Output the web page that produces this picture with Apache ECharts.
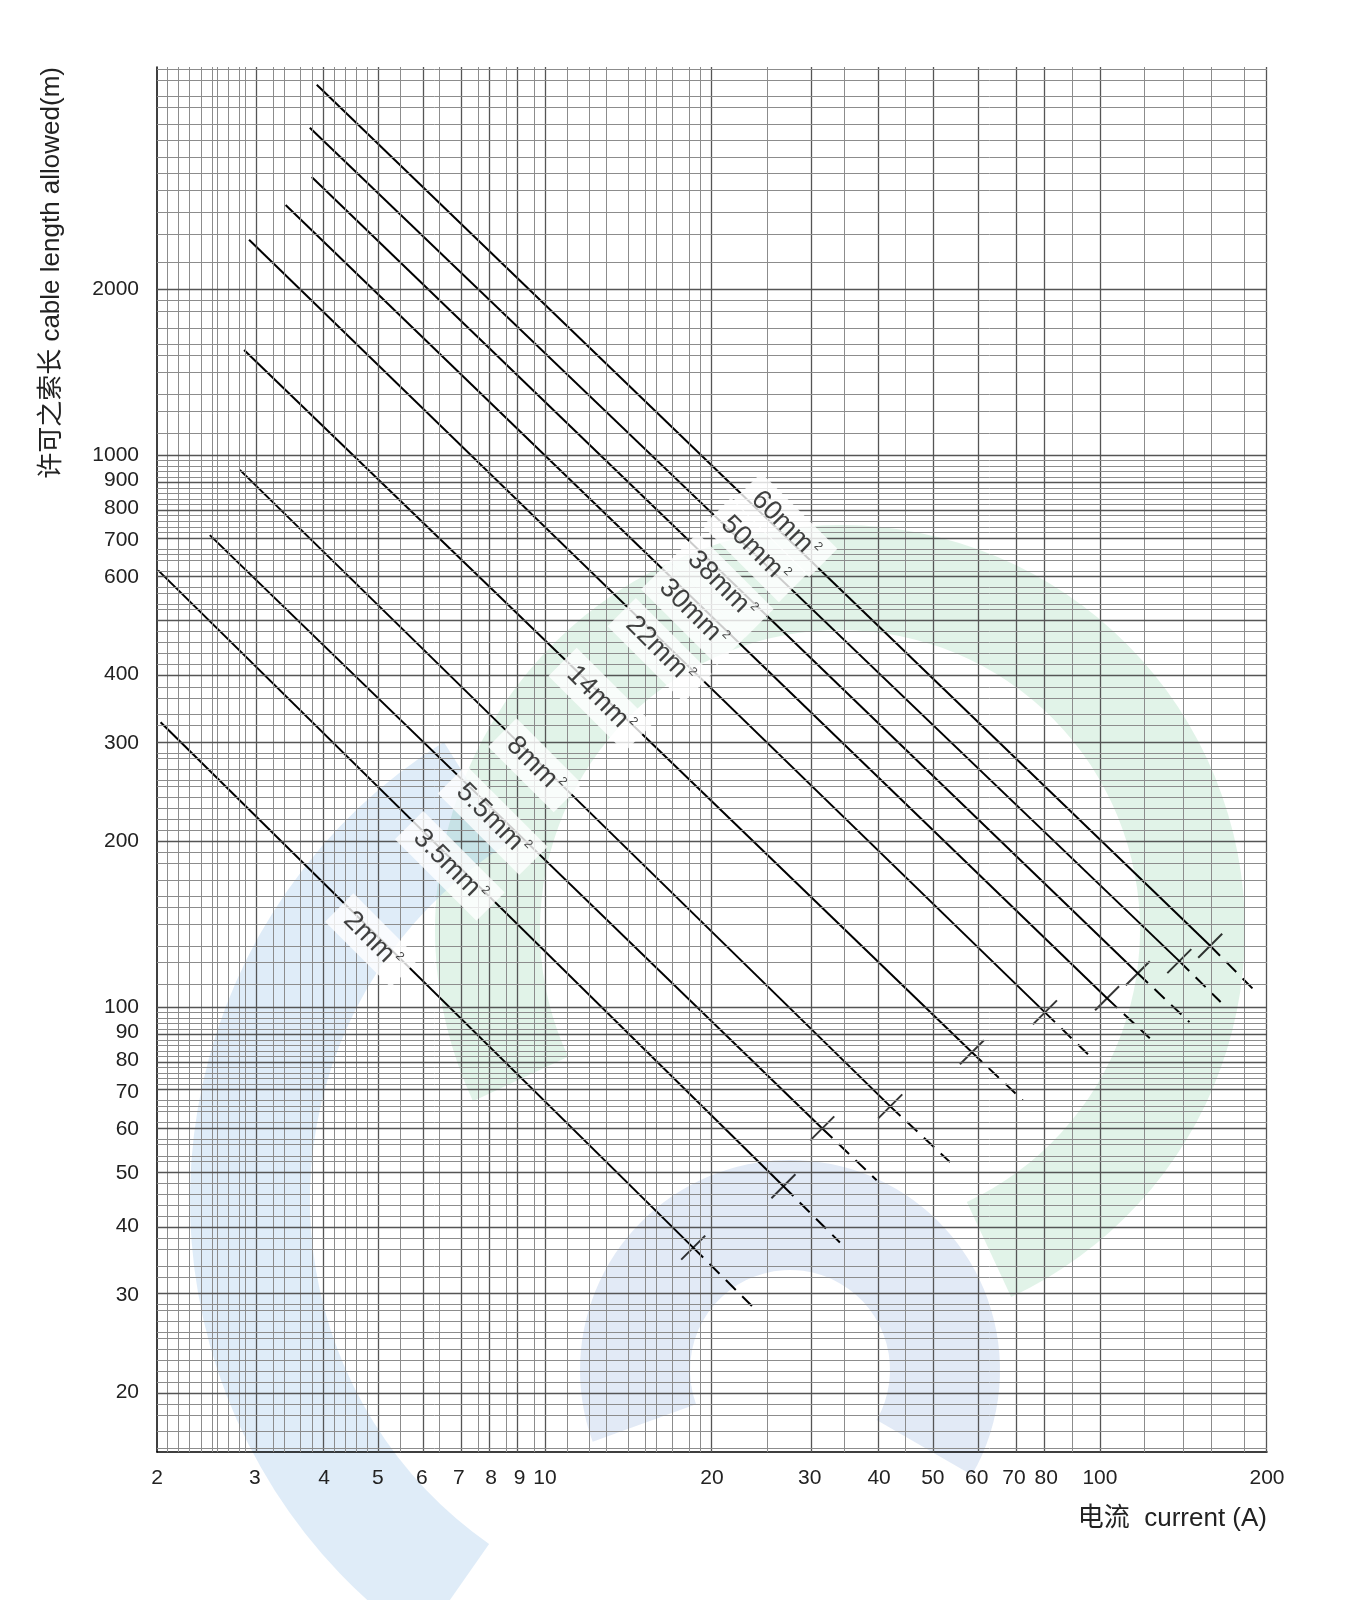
<!DOCTYPE html>
<html><head><meta charset="utf-8">
<script src="https://cdn.jsdelivr.net/npm/echarts@6/dist/echarts.min.js"></script>
<style>body{margin:0;background:#fff}#c{width:1364px;height:1600px}</style>
</head><body><div id="c"></div>
<script>
var xTicks = [2, 3, 4, 5, 6, 7, 8, 9, 10, 20, 30, 40, 50, 60, 70, 80, 100, 200];
var yTicks = [20, 30, 40, 50, 60, 70, 80, 90, 100, 200, 300, 400, 600, 700, 800, 900, 1000, 2000];
var cables = ['2', '3.5', '5.5', '8', '14', '22', '30', '38', '50', '60'];
// [start, cross, dashEnd] in (A, m)
var lineStart = [[2.03, 328], [2.01, 618], [2.49, 716], [2.82, 940], [2.87, 1550], [2.93, 2455], [3.41, 2840], [3.80, 3190], [3.77, 3920], [3.88, 4690]];
var lineCross = [[18.5, 36.6], [26.9, 47.3], [31.6, 60.2], [41.9, 66.0], [58.8, 82.7], [79.6, 97.7], [103, 103.6], [117, 115], [139, 121], [158, 129]];
var lineEnd = [[23.6, 28.7], [34.0, 37.4], [39.6, 48.5], [53.7, 52.3], [72.6, 67.7], [96.8, 80.7], [123, 87.7], [145, 93.8], [165, 102], [190, 107]];
var labelPos = [[4.88, 132], [6.74, 180], [8.05, 218], [9.6, 274], [12.6, 360], [16.1, 443], [18.5, 517], [20.8, 581], [23.9, 673], [27.1, 747]];

var L = Math.log10;
function P(p) { return [L(p[0]), L(p[1])]; }

var xMin = L(2), xMax = L(200), yMin = L(15.6), yMax = L(5050);

// graph-paper grid (approximate spacing)
var xGrid = [], yGrid = [], v;
function addRange(arr, a, b, s) { for (var t = a; t < b - 1e-9; t += s) arr.push(+t.toFixed(2)); }
addRange(xGrid, 2, 3, 0.1); addRange(xGrid, 3, 5, 0.2); addRange(xGrid, 5, 10, 0.5);
addRange(xGrid, 10, 20, 1); addRange(xGrid, 20, 50, 5); addRange(xGrid, 50, 100, 10);
addRange(xGrid, 100, 200, 20); xGrid.push(200);
addRange(yGrid, 16, 30, 1); addRange(yGrid, 30, 100, 2); addRange(yGrid, 100, 300, 10);
addRange(yGrid, 300, 1000, 20); addRange(yGrid, 1000, 2000, 100); addRange(yGrid, 2000, 5000, 250);
yGrid.push(5000);

var gridLines = [];
xGrid.forEach(function (g) {
  var major = xTicks.indexOf(g) >= 0;
  gridLines.push({ xAxis: L(g), lineStyle: { color: major ? '#555' : '#8c8c8c', width: major ? 1.3 : 1, type: 'solid' } });
});
yGrid.forEach(function (g) {
  var major = yTicks.indexOf(g) >= 0 || g === 500;
  gridLines.push({ yAxis: L(g), lineStyle: { color: major ? '#555' : '#8c8c8c', width: major ? 1.3 : 1, type: 'solid' } });
});

var series = [{
  type: 'line', data: [], silent: true,
  markLine: { silent: true, symbol: 'none', label: { show: false }, animation: false, data: gridLines }
}];
cables.forEach(function (c, i) {
  series.push({ type: 'line', data: [P(lineStart[i]), P(lineCross[i])], symbol: 'none', lineStyle: { color: '#000', width: 2 }, z: 3 });
  series.push({ type: 'line', data: [P(lineCross[i]), P(lineEnd[i])], symbol: 'none', lineStyle: { color: '#000', width: 2, type: [14, 9] }, z: 3 });
});
series.push({
  type: 'scatter', data: lineCross.map(P), symbol: 'path://M0,20L20,0', symbolSize: 24,
  itemStyle: { color: 'none', borderColor: '#000', borderWidth: 2 }, z: 4
});
series.push({
  type: 'scatter', symbolSize: 1, itemStyle: { color: 'transparent' }, z: 10,
  data: labelPos.map(function (p, i) {
    return { value: P(p), name: cables[i] };
  }),
  label: {
    show: true, position: 'inside', rotate: -45, backgroundColor: '#fff', padding: [6, 12],
    formatter: function (p) { return '{a|' + p.name + 'mm}{s|2}'; },
    rich: {
      a: { fontSize: 27, color: '#111', fontFamily: 'Liberation Sans' },
      s: { fontSize: 12, color: '#111', verticalAlign: 'top', padding: [0, 0, 16, 2] }
    }
  }
});

var deg = Math.PI / 180;
var chart = echarts.init(document.getElementById('c'));
chart.setOption({
  animation: false,
  backgroundColor: '#fff',
  graphic: [
    { type: 'sector', silent: true, z: -10, shape: { cx: 840, cy: 930, r: 405, r0: 300, startAngle: -205 * deg, endAngle: 65 * deg }, style: { fill: 'rgba(120,200,150,0.22)' } },
    { type: 'sector', silent: true, z: -10, shape: { cx: 730, cy: 1200, r: 540, r0: 420, startAngle: 125 * deg, endAngle: 238 * deg }, style: { fill: 'rgba(110,170,225,0.22)' } },
    { type: 'sector', silent: true, z: -10, shape: { cx: 790, cy: 1370, r: 210, r0: 100, startAngle: -200 * deg, endAngle: 30 * deg }, style: { fill: 'rgba(110,150,210,0.2)' } }
  ],
  grid: { left: 157, right: 97, top: 67, bottom: 148 },
  xAxis: {
    type: 'value', min: xMin, max: xMax,
    name: '电流  current (A)', nameLocation: 'end', nameGap: 0,
    nameTextStyle: { fontSize: 26, color: '#222', align: 'right', verticalAlign: 'top', padding: [54, 0, 0, 0], fontFamily: 'Liberation Sans, Noto Sans CJK SC' },
    axisLine: { lineStyle: { color: '#000', width: 1.5 } },
    axisTick: { show: false },
    splitLine: { show: false },
    axisLabel: {
      customValues: xTicks.map(L), fontSize: 21, color: '#222', margin: 16,
      fontFamily: 'Liberation Sans',
      formatter: function (v) { return String(Math.round(Math.pow(10, v))); }
    }
  },
  yAxis: {
    type: 'value', min: yMin, max: yMax,
    name: '许可之索长 cable length allowed(m)', nameLocation: 'end', nameRotate: 90, nameGap: 0,
    nameTextStyle: { fontSize: 26, color: '#222', align: 'right', verticalAlign: 'bottom', padding: [0, 0, 92, 0], fontFamily: 'Liberation Sans, Noto Sans CJK SC' },
    axisLine: { show: true, lineStyle: { color: '#000', width: 1.5 } },
    axisTick: { show: false },
    splitLine: { show: false },
    axisLabel: {
      customValues: yTicks.map(L), fontSize: 21, color: '#222', margin: 18,
      fontFamily: 'Liberation Sans',
      formatter: function (v) { return String(Math.round(Math.pow(10, v))); }
    }
  },
  series: series
});
</script></body></html>
